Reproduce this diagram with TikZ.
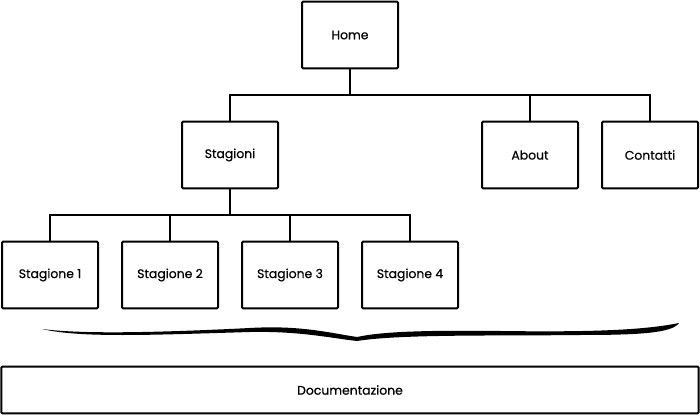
\documentclass[tikz,border=0pt]{standalone}
\usepackage{fontspec}
\setmainfont{Poppins}[FakeBold=0.5,AutoFakeBold=0.5]
\def\boxw{72pt}
\def\boxh{50pt}

\begin{document}
\begin{tikzpicture}[x=0.75pt,y=-0.75pt,line width=1.5pt,draw=black]
  \tikzstyle{page}=[draw,rectangle,rounded corners=0.8pt,minimum width=\boxw,minimum height=\boxh,inner sep=0pt,font=\fontsize{9.3}{11}\selectfont\bfseries]
  \tikzstyle{link}=[line width=1.4pt]

  \useasboundingbox (0,0) rectangle (700,417);

  \node[page] (Home) at (350,35) {Home};
  \node[page] (Stagioni) at (230,155) {Stagioni};
  \node[page] (About) at (530,155) {About};
  \node[page] (Contatti) at (650,155) {Contatti};

  \foreach \name / \x in {1/50,2/170,3/290,4/410}
    \node[page] (S-\name) at (\x,275) {Stagione \name};

  \node[page,minimum width=523pt,minimum height=35pt] (Doc) at (350,390) {Documentazione};

  \foreach \dest in {Stagioni,About,Contatti}
    \draw[link] (Home.south) -- ++(0,26) -| (\dest.north);

  \foreach \dest in {1,...,4}
    \draw[link] (Stagioni.south) -- ++(0,26) -| (S-\dest.north);

  % brace over the documentation
  \fill (42,329) .. controls (80,334) and (150,333) .. (250,328)
    .. controls (300,325) and (330,333) .. (357,337)
    .. controls (380,332) and (420,330) .. (500,331)
    .. controls (580,332) and (640,331) .. (679,323)
    .. controls (672,333) and (640,335) .. (580,335)
    .. controls (500,336) and (400,334) .. (357,341)
    .. controls (330,338) and (300,331) .. (250,332)
    .. controls (150,335) and (80,338) .. (42,329) -- cycle;
\end{tikzpicture}
\end{document}
